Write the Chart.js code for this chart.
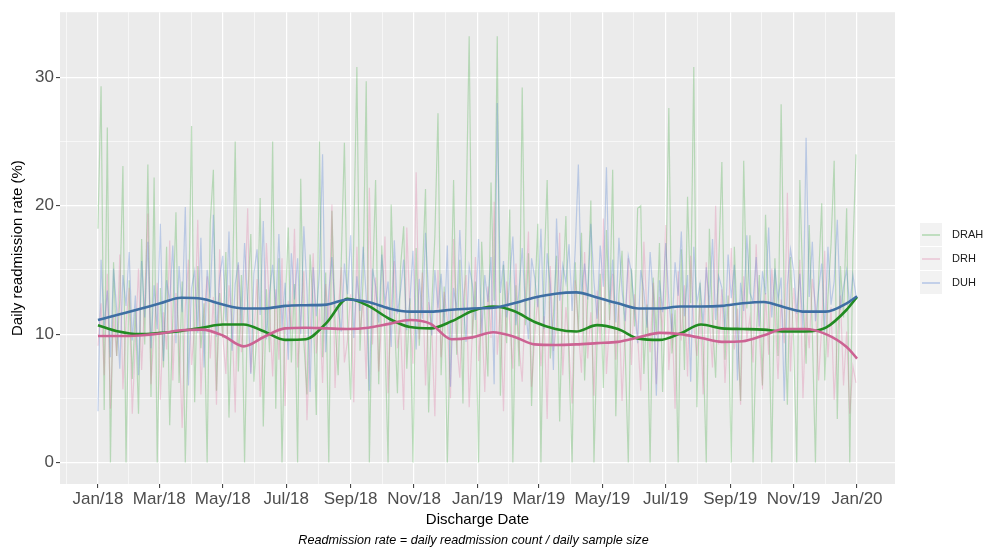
<!DOCTYPE html>
<html>
<head>
<meta charset="utf-8">
<title>Daily readmission rate</title>
<script src="https://cdn.jsdelivr.net/npm/chart.js@4.4.1/dist/chart.umd.min.js"></script>
<style>
  html, body { margin: 0; padding: 0; background: #ffffff; }
  #wrap { width: 985px; height: 548px; }
</style>
</head>
<body>
<div id="wrap"><canvas id="chart" width="985" height="548"></canvas></div>
<script>
// Axis breaks: day offsets from 1 Jan 2018
const tickLabels = ['Jan/18','Mar/18','May/18','Jul/18','Sep/18','Nov/18','Jan/19','Mar/19','May/19','Jul/19','Sep/19','Nov/19','Jan/20'];
const tickDays   = [0, 59, 120, 181, 243, 304, 365, 424, 485, 546, 608, 669, 730];
const minorDays  = [-30.5, 29.5, 89.5, 150.5, 212, 273.5, 334.5, 394.5, 454.5, 515.5, 577, 638.5, 699.5];
const yMajor = [0, 10, 20, 30];
const yMinor = [5, 15, 25];

const seriesNames = ['DRAH', 'DRH', 'DUH'];

// Daily rates (%), one value every third discharge day
const rawDRAH = [
  18.2, 29.3, 4.1, 26.1, 0, 15.6, 8.3, 12.7, 23.1, 0, 14.2, 6.5, 11.9, 3.8, 17.4, 9.2, 23.2, 5.1, 22.2, 0,
  13.6, 7.4, 16.8, 2.9, 11.3, 19.5, 6.2, 14.1, 0, 10.8, 26.2, 4.7, 15.3, 8.9, 12.4, 0, 18.7, 22.8, 5.6, 13.2,
  9.7, 16.4, 3.5, 11.8, 25.0, 7.1, 14.6, 0, 12.9, 17.8, 6.3, 10.4, 20.6, 2.8, 13.5, 8.6, 25.0, 4.2, 15.9, 0,
  11.7, 18.3, 7.8, 13.9, 0, 22.1, 9.4, 5.3, 16.2, 12.1, 3.7, 25.0, 8.2, 14.8, 0, 19.6, 10.9, 6.8, 15.7, 24.9,
  11.2, 4.9, 17.3, 30.8, 8.7, 14.3, 29.7, 0, 13.4, 22.0, 6.1, 16.9, 9.8, 0, 20.1, 11.6, 5.4, 15.2, 18.4, 7.3,
  12.8, 0, 16.7, 9.1, 14.5, 21.3, 3.9, 12.2, 17.6, 27.2, 6.8, 13.7, 0, 10.5, 22.0, 8.4, 15.8, 4.6, 18.9, 33.2,
  9.6, 14.1, 0, 17.2, 11.4, 6.7, 21.8, 12.6, 33.2, 5.2, 15.4, 9.3, 19.7, 0, 13.8, 7.5, 29.2, 10.7, 16.3, 4.4,
  12.5, 18.6, 0, 14.9, 22.0, 8.1, 11.5, 16.1, 3.2, 13.3, 19.2, 7.9, 0, 15.6, 10.2, 17.9, 6.4, 12.8, 20.4, 0,
  9.5, 14.7, 5.8, 18.1, 11.1, 22.8, 3.6, 13.1, 16.5, 8.8, 0, 15.1, 10.6, 19.8, 20.0, 6.9, 12.3, 0, 14.4, 9.9,
  17.1, 5.5, 13.6, 27.6, 8.5, 11.9, 0, 16.6, 7.2, 20.7, 12.4, 30.8, 4.3, 14.0, 9.0, 0, 18.2, 11.0, 6.6, 15.5,
  23.4, 8.0, 13.0, 0, 16.8, 10.3, 4.8, 23.5, 12.0, 17.7, 0, 9.6, 14.6, 6.0, 19.3, 11.8, 0, 15.9, 8.3, 27.9,
  12.7, 4.5, 16.0, 9.4, 0, 22.0, 13.2, 7.7, 18.5, 10.1, 0, 14.2, 20.2, 6.4, 12.9, 17.0, 23.5, 3.4, 15.3, 11.3,
  19.8, 0, 16.4, 24.0
];
const rawDRH = [
  9.1, 12.4, 6.8, 14.7, 4.2, 11.5, 8.3, 16.2, 5.7, 10.9, 13.6, 3.8, 9.4, 15.1, 7.2, 12.8, 19.4, 6.1, 10.3, 14.0,
  4.9, 11.7, 8.8, 17.3, 6.4, 13.2, 9.7, 2.7, 12.1, 15.8, 7.6, 10.6, 18.9, 5.3, 11.4, 14.5, 8.1, 12.9, 4.5, 16.6,
  9.9, 6.9, 13.8, 11.0, 3.9, 15.4, 8.6, 12.3, 19.8, 7.0, 10.2, 14.3, 5.1, 9.0, 17.1, 11.9, 6.7, 13.5, 8.0, 15.9,
  4.4, 12.6, 10.4, 18.2, 7.4, 11.2, 14.9, 3.3, 9.8, 16.3, 8.5, 12.0, 6.2, 13.9, 10.7, 20.1, 5.8, 11.6, 15.2, 7.8,
  9.5, 13.1, 4.7, 16.8, 10.0, 12.7, 6.5, 21.4, 9.2, 14.4, 7.1, 11.3, 17.6, 5.4, 12.2, 15.7, 8.9, 10.8, 4.1, 18.3,
  11.8, 7.7, 22.6, 9.6, 14.8, 6.0, 12.5, 10.5, 3.6, 15.0, 8.2, 13.3, 11.1, 5.0, 17.4, 9.3, 6.6, 12.4, 14.6, 4.3,
  10.1, 16.0, 7.9, 11.9, 5.5, 13.7, 9.7, 20.3, 8.4, 12.2, 4.0, 14.1, 10.9, 7.3, 15.5, 9.0, 6.3, 12.8, 18.0, 5.9,
  9.8, 13.0, 7.5, 11.4, 3.4, 15.3, 8.7, 10.6, 17.9, 6.8, 12.1, 9.1, 4.6, 14.2, 10.3, 7.0, 16.4, 8.1, 11.7, 5.2,
  13.4, 9.4, 19.0, 6.9, 11.0, 14.7, 8.0, 12.6, 4.8, 10.4, 15.9, 7.6, 13.1, 9.9, 5.6, 17.2, 11.5, 8.6, 14.0, 6.1,
  12.9, 10.2, 18.5, 7.2, 11.6, 4.2, 14.9, 9.5, 13.8, 6.7, 16.1, 10.7, 8.3, 12.4, 5.3, 15.6, 11.2, 7.4, 20.0, 9.2,
  13.5, 6.2, 10.9, 16.7, 8.8, 12.0, 4.5, 14.5, 9.6, 11.3, 7.8, 17.0, 10.0, 5.7, 13.2, 8.4, 15.1, 11.8, 6.5, 12.7,
  9.3, 21.0, 7.1, 13.6, 10.5, 15.8, 5.0, 11.9, 8.9, 14.3, 12.3, 6.4, 10.6, 16.5, 8.2, 12.1, 4.9, 9.7, 13.0, 6.0,
  10.2, 3.8, 7.5, 6.2
];
const rawDUH = [
  4.0, 15.8, 10.6, 13.4, 8.2, 15.1, 11.9, 7.3, 14.6, 12.2, 16.4, 9.5, 13.0, 6.8, 15.7, 11.3, 17.2, 8.9, 13.8, 10.4,
  18.6, 7.9, 14.2, 12.5, 16.9, 9.3, 15.3, 11.7, 19.9, 6.0, 13.6, 14.9, 10.1, 17.5, 7.4, 15.0, 12.8, 19.3, 9.8, 14.4,
  16.1, 11.0, 18.0, 8.7, 13.9, 15.6, 10.8, 17.1, 12.3, 6.9, 14.7, 16.6, 11.5, 18.8, 9.6, 13.2, 15.4, 12.0, 17.8, 10.5,
  14.0, 8.0, 16.3, 12.7, 15.9, 10.0, 18.4, 13.5, 5.5, 15.2, 11.4, 14.8, 24.0, 8.6, 13.3, 16.0, 12.1, 12.0, 10.2, 15.5,
  13.1, 17.7, 9.7, 14.5, 11.8, 16.8, 12.9, 5.6, 15.1, 13.7, 10.9, 16.2, 12.4, 14.1, 9.0, 17.3, 11.6, 13.4, 15.8, 10.3,
  12.6, 16.5, 8.8, 14.3, 11.2, 17.9, 13.0, 9.9, 15.0, 12.0, 14.7, 10.6, 16.9, 5.9, 13.6, 11.9, 18.1, 12.8, 9.4, 15.3,
  13.9, 11.1, 17.4, 10.0, 14.6, 12.5, 16.0, 6.1, 28.0, 13.2, 15.7, 11.3, 14.2, 17.6, 10.7, 13.5, 16.7, 12.2, 9.6, 15.9,
  14.4, 12.1, 18.2, 10.4, 16.3, 13.8, 7.2, 19.0, 12.6, 15.4, 14.0, 17.0, 11.8, 16.6, 23.2, 13.1, 15.5, 12.7, 18.6, 14.1,
  11.2, 16.9, 13.7, 23.0, 12.3, 15.8, 10.9, 17.5, 13.4, 11.0, 16.1, 14.8, 12.0, 9.3, 15.0, 13.3, 10.5, 16.4, 12.9, 5.2,
  14.2, 11.7, 17.1, 12.6, 10.1, 15.6, 13.0, 18.0, 11.4, 14.6, 6.3, 16.8, 12.4, 13.9, 10.8, 15.2, 12.2, 17.4, 11.1, 14.5,
  13.6, 10.3, 16.2, 12.8, 15.4, 6.4, 14.0, 11.8, 17.7, 13.2, 12.5, 16.0, 10.6, 14.9, 13.1, 18.3, 11.3, 15.1, 12.7, 14.4,
  4.8, 13.8, 16.6, 15.0, 11.6, 14.7, 10.4, 25.3, 12.9, 17.2, 11.0, 13.4, 15.5, 10.2, 16.8, 12.3, 14.1, 18.9, 11.9, 13.7,
  15.0, 12.1, 14.6, 13.0
];

// Smoothed trend (%), sampled every 20 days
const smoothDays = [0, 20, 40, 60, 80, 100, 120, 140, 160, 180, 200, 220, 240, 260, 280, 300, 320, 340, 360,
  380, 400, 420, 440, 460, 480, 500, 520, 540, 560, 580, 600, 620, 640, 660, 680, 700, 720, 730];
const smoothDRAH = [10.7, 10.2, 10.0, 10.1, 10.25, 10.5, 10.75, 10.75, 10.2, 9.55, 9.6, 10.9, 12.75, 12.2, 11.2,
  10.55, 10.45, 11.0, 11.8, 12.15, 11.8, 10.95, 10.4, 10.2, 10.7, 10.4, 9.65, 9.55, 10.05, 10.75, 10.45, 10.4,
  10.35, 10.2, 10.2, 10.5, 11.9, 12.9];
const smoothDRH = [9.85, 9.85, 9.9, 10.05, 10.3, 10.35, 9.9, 9.05, 9.8, 10.45, 10.5, 10.45, 10.4, 10.5, 10.8,
  11.1, 10.8, 9.6, 9.75, 10.15, 9.8, 9.2, 9.15, 9.2, 9.3, 9.4, 9.75, 10.1, 10.0, 9.7, 9.4, 9.45, 9.9, 10.4,
  10.4, 10.0, 9.0, 8.1];
const smoothDUH = [11.1, 11.53, 11.96, 12.4, 12.83, 12.75, 12.3, 12.0, 12.0, 12.2, 12.25, 12.3, 12.7, 12.5, 12.0,
  11.75, 11.75, 11.9, 12.0, 12.05, 12.4, 12.85, 13.15, 13.25, 12.85, 12.4, 12.0, 12.0, 12.15, 12.15, 12.2,
  12.4, 12.5, 12.1, 11.75, 11.75, 12.4, 12.95];

// Discharge day of each daily value (every third day from 1 Jan 2018)
const rawDays = rawDRAH.map((_, i) => i * 3);

const rawColors    = ['rgba(60,170,60,0.3)', 'rgba(220,100,150,0.27)', 'rgba(70,120,210,0.3)'];
const smoothColors = ['#228b22', '#cc6393', '#3f6fa3'];
const FONT = "'Liberation Sans', Arial, Helvetica, sans-serif";

const toPoints = (xs, ys) => ys.map((y, i) => ({ x: xs[i], y: y }));

const rawSets = [rawDRAH, rawDRH, rawDUH];
const smoothSets = [smoothDRAH, smoothDRH, smoothDUH];

const datasets = [];
seriesNames.forEach((name, k) => {
  datasets.push({
    label: name,
    data: toPoints(rawDays, rawSets[k]),
    borderColor: rawColors[k],
    borderWidth: 1.2,
    pointRadius: 0,
    tension: 0,
    order: 6 - k
  });
});
seriesNames.forEach((name, k) => {
  datasets.push({
    label: name + ' trend',
    data: toPoints(smoothDays, smoothSets[k]),
    borderColor: smoothColors[k],
    borderWidth: 2.6,
    pointRadius: 0,
    cubicInterpolationMode: 'monotone',
    order: 3 - k
  });
});

const majorX = new Set(tickDays);
const majorY = new Set(yMajor);

// Grey panel behind the plotting region
const panelBackground = {
  id: 'panelBackground',
  beforeDraw(chart) {
    const { ctx, chartArea: a } = chart;
    ctx.save();
    ctx.fillStyle = '#ebebeb';
    ctx.fillRect(a.left, a.top, a.right - a.left, a.bottom - a.top);
    ctx.restore();
  }
};

// Legend keys on the right and the caption line below the axis title
const legendAndCaption = {
  id: 'legendAndCaption',
  afterDraw(chart) {
    const { ctx, chartArea: a } = chart;
    ctx.save();
    const keyX = 920, keyW = 22, keyH = 24, keyTop = 223;
    const legendLine = ['rgba(60,170,60,0.45)', 'rgba(220,100,150,0.4)', 'rgba(70,120,210,0.45)'];
    seriesNames.forEach((name, k) => {
      const y0 = keyTop + k * keyH;
      ctx.fillStyle = '#f2f2f2';
      ctx.fillRect(keyX, y0, keyW, keyH - 1);
      ctx.strokeStyle = legendLine[k];
      ctx.lineWidth = 1.2;
      ctx.beginPath();
      ctx.moveTo(keyX + 2, y0 + keyH / 2);
      ctx.lineTo(keyX + keyW - 2, y0 + keyH / 2);
      ctx.stroke();
      ctx.fillStyle = '#1a1a1a';
      ctx.font = '11px ' + FONT;
      ctx.textAlign = 'left';
      ctx.textBaseline = 'middle';
      ctx.fillText(name, 952, y0 + keyH / 2);
    });
    ctx.fillStyle = '#000000';
    ctx.font = 'italic 12.6px ' + FONT;
    ctx.textAlign = 'center';
    ctx.textBaseline = 'middle';
    ctx.fillText('Readmission rate = daily readmission count / daily sample size', (a.left + a.right) / 2 - 4, 540);
    ctx.restore();
  }
};

new Chart(document.getElementById('chart'), {
  type: 'line',
  data: { datasets: datasets },
  plugins: [panelBackground, legendAndCaption],
  options: {
    responsive: false,
    animation: false,
    events: [],
    layout: { padding: { top: 9, right: 90, bottom: 16, left: 0 } },
    plugins: { legend: { display: false }, tooltip: { enabled: false } },
    scales: {
      x: {
        type: 'linear',
        min: -36.5,
        max: 766.5,
        afterBuildTicks(axis) {
          axis.ticks = minorDays.concat(tickDays).sort((p, q) => p - q).map(v => ({ value: v }));
        },
        afterFit(axis) { axis.height = 48; },
        border: { display: false },
        grid: {
          color: '#ffffff',
          lineWidth: c => (c.tick && majorX.has(c.tick.value)) ? 1.2 : 0.6,
          drawTicks: true,
          tickLength: 4,
          tickWidth: 1,
          tickColor: c => (c.tick && majorX.has(c.tick.value)) ? '#333333' : 'rgba(0,0,0,0)'
        },
        ticks: {
          autoSkip: false,
          maxRotation: 0,
          padding: 1,
          color: '#4d4d4d',
          font: { family: FONT, size: 17 },
          callback: v => {
            const i = tickDays.indexOf(v);
            return i >= 0 ? tickLabels[i] : '';
          }
        },
        title: {
          display: true,
          text: 'Discharge Date',
          color: '#000000',
          font: { family: FONT, size: 15 },
          padding: { top: 0, bottom: 3 }
        }
      },
      y: {
        type: 'linear',
        min: -1.67,
        max: 35.07,
        afterBuildTicks(axis) {
          axis.ticks = yMajor.concat(yMinor).sort((p, q) => p - q).map(v => ({ value: v }));
        },
        afterFit(axis) { axis.width = 60; },
        border: { display: false },
        grid: {
          color: '#ffffff',
          lineWidth: c => (c.tick && majorY.has(c.tick.value)) ? 1.2 : 0.6,
          drawTicks: true,
          tickLength: 4,
          tickWidth: 1,
          tickColor: c => (c.tick && majorY.has(c.tick.value)) ? '#333333' : 'rgba(0,0,0,0)'
        },
        ticks: {
          autoSkip: false,
          padding: 2,
          color: '#4d4d4d',
          font: { family: FONT, size: 17 },
          callback: v => majorY.has(v) ? String(v) : ''
        },
        title: {
          display: true,
          text: 'Daily readmission rate (%)',
          color: '#000000',
          font: { family: FONT, size: 15 },
          padding: { top: 9, bottom: 0 }
        }
      }
    }
  }
});
</script>
</body>
</html>
